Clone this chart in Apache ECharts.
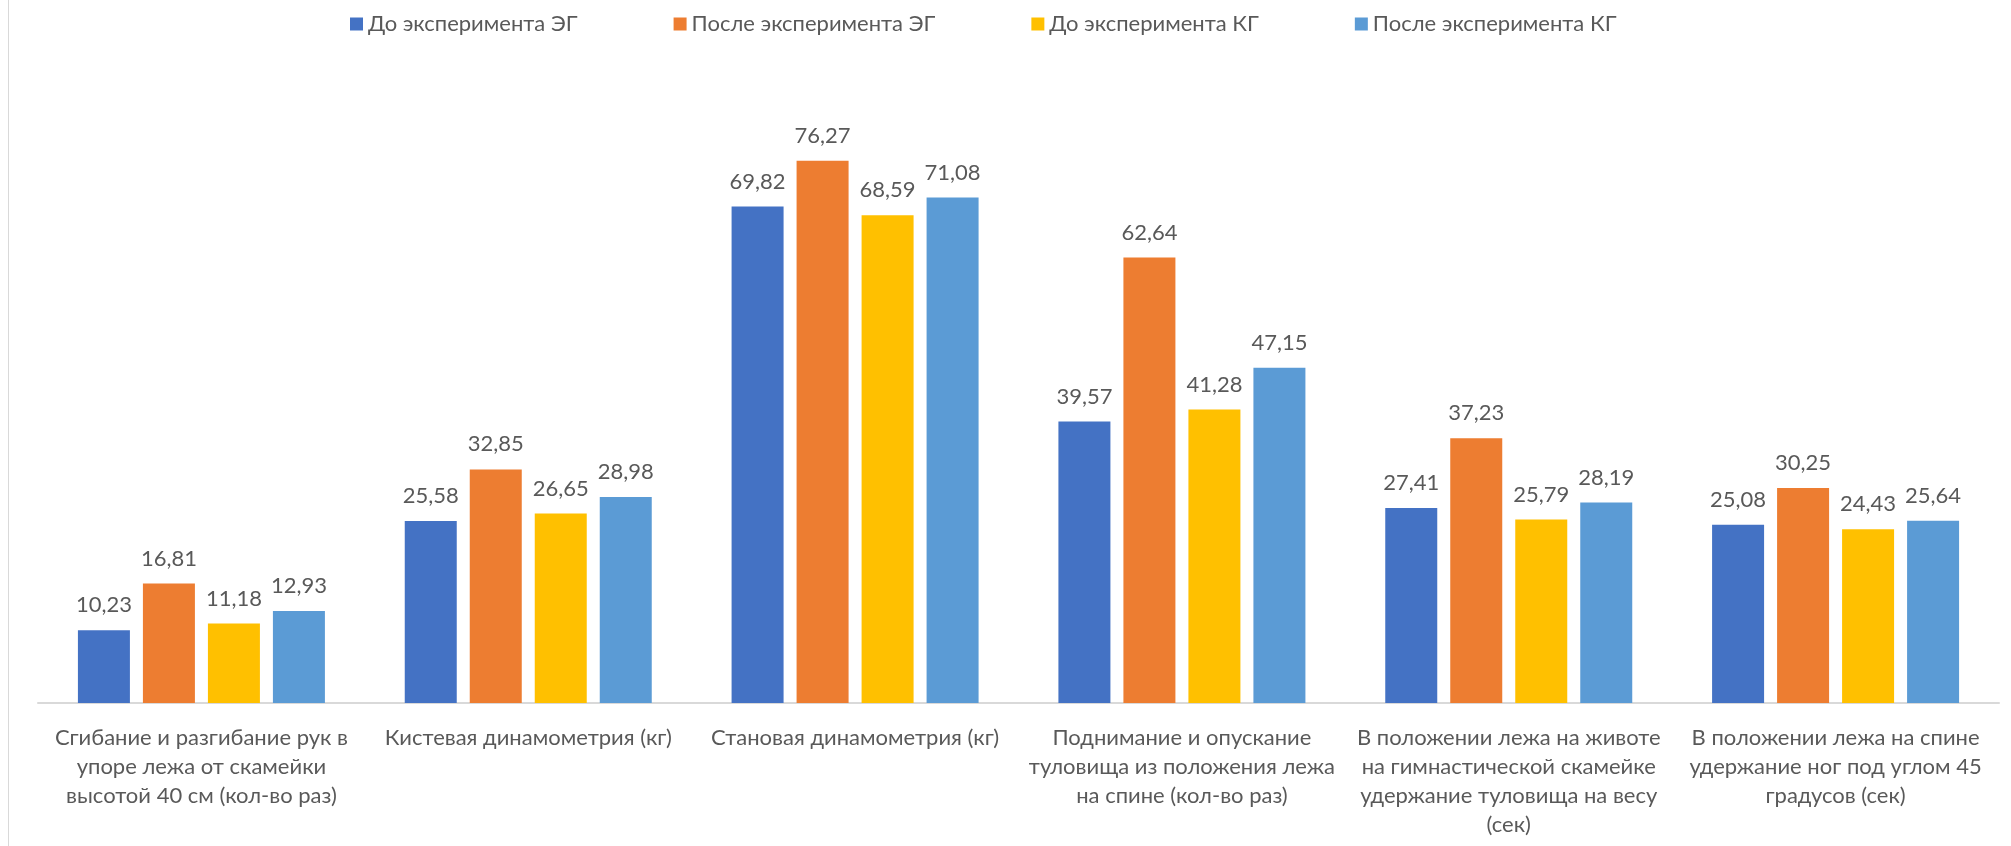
<!DOCTYPE html>
<html>
<head>
<meta charset="utf-8">
<script src="https://cdn.jsdelivr.net/npm/echarts@6/dist/echarts.min.js"></script>
<style>
html,body{margin:0;padding:0;background:#fff;}
#chart{width:2011px;height:846px;}
</style>
</head>
<body>
<div id="chart"></div>
<script>
const categories = [
  "Сгибание и разгибание рук в\nупоре лежа от скамейки\nвысотой 40 см (кол-во раз)",
  "Кистевая динамометрия (кг)",
  "Становая динамометрия (кг)",
  "Поднимание и опускание\nтуловища из положения лежа\nна спине (кол-во раз)",
  "В положении лежа на животе\nна гимнастической скамейке\nудержание туловища на весу\n(сек)",
  "В положении лежа на спине\nудержание ног под углом 45\nградусов (сек)"
];
const seriesNames = ["До эксперимента ЭГ", "После эксперимента ЭГ", "До эксперимента КГ", "После эксперимента КГ"];
const beforeEG = [10.23, 25.58, 69.82, 39.57, 27.41, 25.08];
const afterEG  = [16.81, 32.85, 76.27, 62.64, 37.23, 30.25];
const beforeKG = [11.18, 26.65, 68.59, 41.28, 25.79, 24.43];
const afterKG  = [12.93, 28.98, 71.08, 47.15, 28.19, 25.64];

const colors = ["#4472C4", "#ED7D31", "#FFC000", "#5B9BD5"];
const FONT = "Lato";
const TXT = "#595959";

const allData = [beforeEG, afterEG, beforeKG, afterKG];
const series = allData.map((d, i) => ({
  name: seriesNames[i],
  type: "bar",
  data: d,
  barWidth: 52,
  barGap: "25%",
  itemStyle: { color: colors[i] },
  label: {
    show: true,
    position: "top",
    distance: 14,
    color: TXT,
    fontFamily: FONT,
    fontSize: 22,
    formatter: p => p.value.toFixed(2).replace(".", ",")
  }
}));

const chart = echarts.init(document.getElementById("chart"), null, { renderer: "canvas" });
chart.setOption({
  animation: false,
  color: colors,
  graphic: [{
    type: "line",
    shape: { x1: 8.5, y1: 0, x2: 8.5, y2: 846 },
    style: { stroke: "#D9D9D9", lineWidth: 1 }
  }],
  legend: {
    left: 345,
    top: 8,
    itemWidth: 13,
    itemHeight: 13,
    itemGap: 96,
    icon: "rect",
    textStyle: { color: TXT, fontFamily: FONT, fontSize: 22, padding: [0, 0, 0, 0] },
    data: seriesNames
  },
  grid: { left: 38, right: 12, top: 63, bottom: 143, containLabel: false },
  xAxis: {
    type: "category",
    data: categories,
    axisTick: { show: false },
    axisLine: { lineStyle: { color: "#D9D9D9", width: 2 } },
    axisLabel: {
      interval: 0,
      color: TXT,
      fontFamily: FONT,
      fontSize: 22,
      lineHeight: 29,
      margin: 20,
      align: "center"
    }
  },
  yAxis: {
    type: "value",
    min: 0,
    max: 90,
    interval: 10,
    show: false,
    splitLine: { show: false }
  },
  series: series
});
</script>
</body>
</html>
